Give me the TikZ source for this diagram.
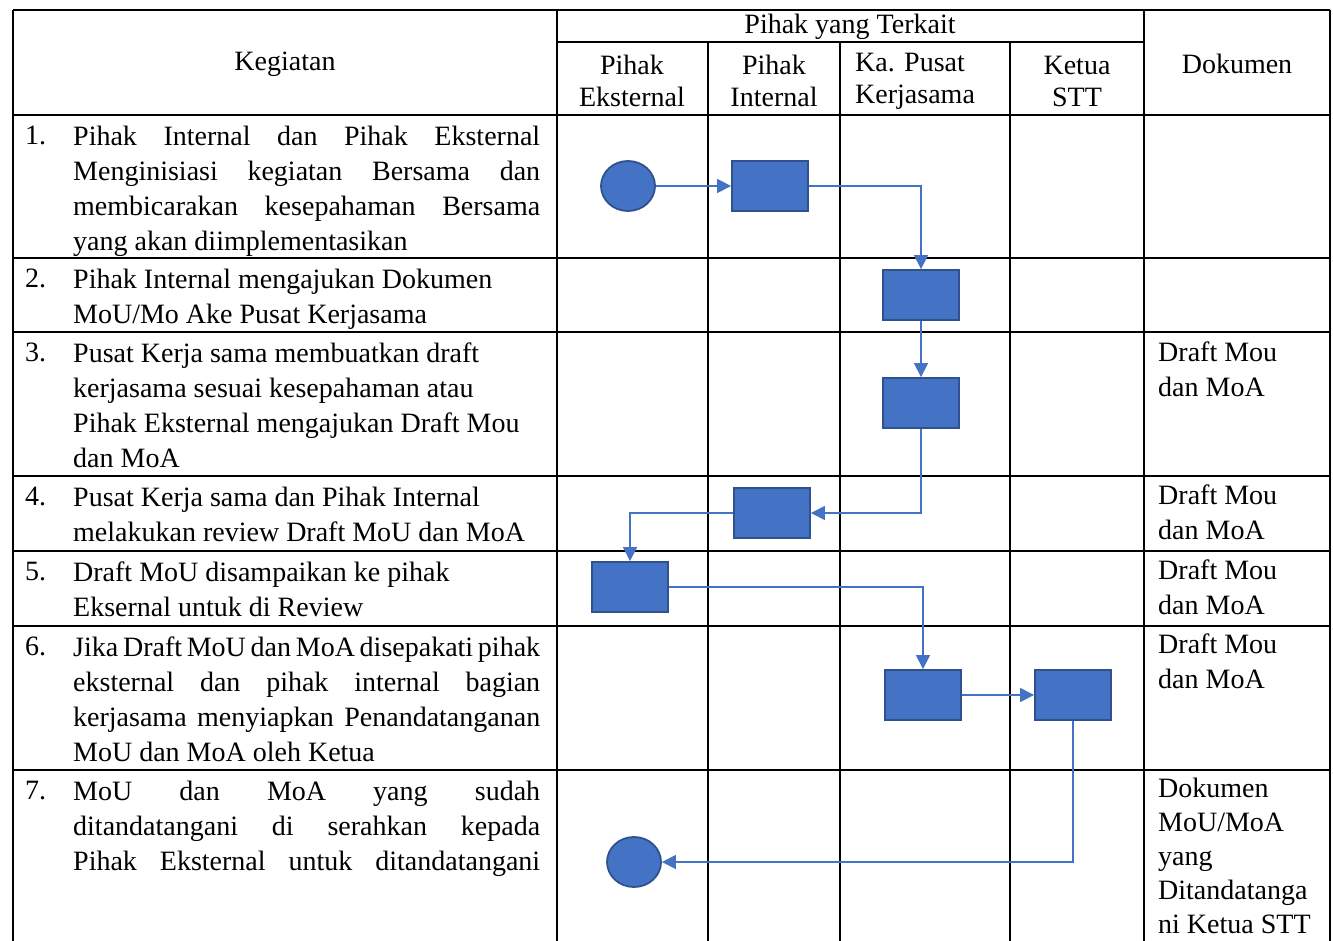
\documentclass[tikz,border=0pt]{standalone}
\usepackage{fontspec}
\setmainfont{Liberation Serif}
\usetikzlibrary{arrows.meta,shapes.geometric}
\definecolor{boxblue}{HTML}{4472C4}
\definecolor{boxedge}{HTML}{2F528F}
\newcommand{\jl}[1]{\makebox[467pt][s]{#1}}

\begin{document}
\begin{tikzpicture}[x=1pt,y=-1pt,
    grid/.style={line width=2pt},
    act/.style={draw=boxedge, fill=boxblue, line width=1.8pt, rectangle, minimum width=76pt, minimum height=50pt, inner sep=0pt},
    term/.style={draw=boxedge, fill=boxblue, line width=1.8pt, ellipse, minimum width=54pt, minimum height=50pt, inner sep=0pt},
    flow/.style={draw=boxblue, line width=1.2pt, -{Triangle[length=14pt,width=14pt]}},
    txt/.style={anchor=north west, inner sep=0pt, font=\fontsize{28}{35}\selectfont, align=left},
    head/.style={inner sep=0pt, font=\fontsize{28}{32}\selectfont, align=center}]
    \useasboundingbox[fill=white] (0,0) rectangle (1333,941);

    % Table lines
    \draw[grid] (13,10) -- (1330,10);
    \draw[grid] (557,42) -- (1144,42);
    \draw[grid] (13,115) -- (1330,115);
    \draw[grid] (13,258) -- (1330,258);
    \draw[grid] (13,332) -- (1330,332);
    \draw[grid] (13,476) -- (1330,476);
    \draw[grid] (13,551) -- (1330,551);
    \draw[grid] (13,626) -- (1330,626);
    \draw[grid] (13,770) -- (1330,770);
    \draw[grid] (13,10) -- (13,941);
    \draw[grid] (557,10) -- (557,941);
    \draw[grid] (708,42) -- (708,941);
    \draw[grid] (840,42) -- (840,941);
    \draw[grid] (1010,42) -- (1010,941);
    \draw[grid] (1144,10) -- (1144,941);
    \draw[grid] (1330,10) -- (1330,941);

    % Header
    \node[head] (h-keg) at (285,64) {Kegiatan};
    \node[head] (h-pihak) at (850,27) {Pihak yang Terkait};
    \node[head] (h-eks) at (632,81) {Pihak\\Eksternal};
    \node[head] (h-int) at (774,81) {Pihak\\Internal};
    \node[head, align=left, anchor=west] (h-pusat) at (855,81) {Ka. Pusat\\Kerjasama};
    \node[head] (h-ketua) at (1077,81) {Ketua\\STT};
    \node[head] (h-dok) at (1237,64) {Dokumen};

    % Kegiatan
    \node[txt] (n-1) at (25,126) {1.};
    \node[txt] (k-1) at (73,126) {\jl{Pihak Internal dan Pihak Eksternal}\\\jl{Menginisiasi kegiatan Bersama dan}\\\jl{membicarakan kesepahaman Bersama}\\yang akan diimplementasikan};
    \node[txt] (n-2) at (25,269) {2.};
    \node[txt] (k-2) at (73,269) {Pihak Internal mengajukan Dokumen\\MoU/Mo Ake Pusat Kerjasama};
    \node[txt] (n-3) at (25,343) {3.};
    \node[txt] (k-3) at (73,343) {Pusat Kerja sama membuatkan draft\\kerjasama sesuai kesepahaman atau\\Pihak Eksternal mengajukan Draft Mou\\dan MoA};
    \node[txt] (n-4) at (25,487) {4.};
    \node[txt] (k-4) at (73,487) {Pusat Kerja sama dan Pihak Internal\\melakukan review Draft MoU dan MoA};
    \node[txt] (n-5) at (25,562) {5.};
    \node[txt] (k-5) at (73,562) {Draft MoU disampaikan ke pihak\\Eksernal untuk di Review};
    \node[txt] (n-6) at (25,637) {6.};
    \node[txt] (k-6) at (73,637) {\jl{Jika Draft MoU dan MoA disepakati pihak}\\\jl{eksternal dan pihak internal bagian}\\\jl{kerjasama menyiapkan Penandatanganan}\\MoU dan MoA oleh Ketua};
    \node[txt] (n-7) at (25,781) {7.};
    \node[txt] (k-7) at (73,781) {\jl{MoU dan MoA yang sudah}\\\jl{ditandatangani di serahkan kepada}\\\jl{Pihak Eksternal untuk ditandatangani}};

    % Dokumen
    \node[txt] (d-3) at (1158,342) {Draft Mou\\dan MoA};
    \node[txt] (d-4) at (1158,485) {Draft Mou\\dan MoA};
    \node[txt] (d-5) at (1158,560) {Draft Mou\\dan MoA};
    \node[txt] (d-6) at (1158,634) {Draft Mou\\dan MoA};
    \node[txt, font=\fontsize{28}{34}\selectfont] (d-7) at (1158,778) {Dokumen\\MoU/MoA\\yang\\Ditandatanga\\ni Ketua STT};

    % Flow
    \node[term] (start) at (628,186) {};
    \node[act] (act-1) at (770,186) {};
    \node[act] (act-2) at (921,295) {};
    \node[act] (act-3) at (921,403) {};
    \node[act] (act-4) at (772,513) {};
    \node[act] (act-5) at (630,587) {};
    \node[act] (act-6) at (923,695) {};
    \node[act] (act-7) at (1073,695) {};
    \node[term] (stop) at (634,862) {};

    \draw[flow] (start) -- (act-1);
    \draw[flow] (act-1.east) -| (act-2.north);
    \draw[flow] (act-2) -- (act-3);
    \draw[flow] (act-3.south) |- (act-4.east);
    \draw[flow] (act-4.west) -| (act-5.north);
    \draw[flow] (act-5.east) -| (act-6.north);
    \draw[flow] (act-6) -- (act-7);
    \draw[flow] (act-7.south) |- (stop.east);
\end{tikzpicture}
\end{document}
